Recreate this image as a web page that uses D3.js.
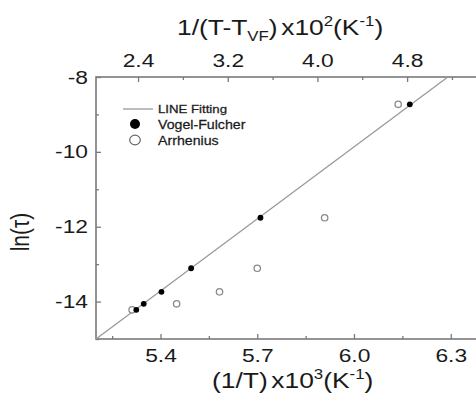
<!DOCTYPE html>
<html>
<head>
<meta charset="utf-8">
<script src="https://cdn.jsdelivr.net/npm/d3@7/dist/d3.min.js"></script>
<style>
  html, body { margin: 0; padding: 0; background: #fff; }
  svg { display: block; }
  text { font-family: "Liberation Sans", Arial, sans-serif; fill: #1a1a1a; }
</style>
</head>
<body>
<svg id="chart" width="476" height="398"></svg>
<script>
// Relaxation time data: x = 1000/T (K^-1), y = ln(tau)
const invT_VF   = [5.325, 5.348, 5.403, 5.495, 5.710, 6.173];
const lnTau     = [-14.22, -14.06, -13.74, -13.11, -11.76, -8.73];
const invT_Arr  = [5.312, 5.450, 5.583, 5.700, 5.909, 6.137];
const fitX      = [5.2, 6.291];
const fitY      = [-15, -8];

const xTicks    = [5.4, 5.7, 6.0, 6.3];
const xMinor    = [5.25, 5.55, 5.85, 6.15];
const topTicks  = [2.4, 3.2, 4.0, 4.8];
const topMinor  = [2.8, 3.6, 4.4, 5.2];
const yTicks    = [-8, -10, -12, -14];
const yMinor    = [-9, -11, -13, -15];

const legendItems = ["LINE Fitting", "Vogel-Fulcher", "Arrhenius"];

const svg = d3.select("#chart");
const L = 96, R = 483, T = 77, B = 339;
const SX = 1.2; // horizontal stretch of the lettering

const x = d3.scaleLinear().domain([5.2, 6.4]).range([L, R]);
const xTop = d3.scaleLinear().domain([2.025, 5.477]).range([L, R]);
const y = d3.scaleLinear().domain([-15, -8]).range([B, T]);

const axisColor = "#7a7a7a";

function styleAxis(g) {
  g.select(".domain").remove();
  g.selectAll("line").attr("stroke", axisColor).attr("stroke-width", 1.3);
  g.selectAll("text").attr("font-size", 19).attr("fill", "#1a1a1a");
}

// frame
svg.append("rect")
  .attr("x", L).attr("y", T).attr("width", R - L).attr("height", B - T)
  .attr("fill", "none").attr("stroke", axisColor).attr("stroke-width", 1.6);

// bottom axis
const gB = svg.append("g").attr("transform", `translate(0,${B})`)
  .call(d3.axisBottom(x).tickValues(xTicks).tickSize(-5).tickFormat(d => d.toFixed(1)));
styleAxis(gB);
gB.selectAll("text").attr("y", 0).attr("dy", 0)
  .attr("transform", `translate(0,23) scale(${SX},1)`);
svg.append("g").attr("transform", `translate(0,${B})`)
  .call(d3.axisBottom(x).tickValues(xMinor).tickSize(-3).tickFormat(""))
  .call(styleAxis);

// top axis
const gT = svg.append("g").attr("transform", `translate(0,${T})`)
  .call(d3.axisTop(xTop).tickValues(topTicks).tickSize(-5).tickFormat(d => d.toFixed(1)));
styleAxis(gT);
gT.selectAll("text").attr("y", 0).attr("dy", 0)
  .attr("transform", `translate(0,-10) scale(${SX},1)`);
svg.append("g").attr("transform", `translate(0,${T})`)
  .call(d3.axisTop(xTop).tickValues(topMinor).tickSize(-3).tickFormat(""))
  .call(styleAxis);

// left axis (plain hyphen for the minus sign)
const gL = svg.append("g").attr("transform", `translate(${L},0)`)
  .call(d3.axisLeft(y).tickValues(yTicks).tickSize(-5).tickFormat(d => String(d)));
styleAxis(gL);
gL.selectAll("text").attr("x", 0)
  .attr("transform", `translate(-8,0) scale(${SX},1)`);
svg.append("g").attr("transform", `translate(${L},0)`)
  .call(d3.axisLeft(y).tickValues(yMinor).tickSize(-3).tickFormat(""))
  .call(styleAxis);

// linear fit
svg.append("path")
  .datum(d3.zip(fitX, fitY))
  .attr("fill", "none").attr("stroke", "#9a9a9a").attr("stroke-width", 1.3)
  .attr("d", d3.line().x(d => x(d[0])).y(d => y(d[1])));

// Arrhenius (open)
svg.append("g").selectAll("circle")
  .data(d3.zip(invT_Arr, lnTau)).join("circle")
  .attr("cx", d => x(d[0])).attr("cy", d => y(d[1])).attr("r", 3.2)
  .attr("fill", "#fff").attr("stroke", "#8a8a8a").attr("stroke-width", 1.3);

// Vogel-Fulcher (filled)
svg.append("g").selectAll("circle")
  .data(d3.zip(invT_VF, lnTau)).join("circle")
  .attr("cx", d => x(d[0])).attr("cy", d => y(d[1])).attr("r", 2.9)
  .attr("fill", "#000");

// legend
svg.append("line").attr("x1", 123).attr("x2", 153).attr("y1", 109).attr("y2", 109)
  .attr("stroke", "#9a9a9a").attr("stroke-width", 1.3);
svg.append("text").attr("transform", "translate(158,113) scale(1.15,1)")
  .attr("font-size", 11.5).attr("fill", "#2a2a2a")
  .attr("stroke", "#2a2a2a").attr("stroke-width", 0.3).text(legendItems[0]);
svg.append("circle").attr("cx", 135).attr("cy", 124).attr("r", 5).attr("fill", "#000");
svg.append("text").attr("transform", "translate(158,128.5) scale(1.05,1)")
  .attr("font-size", 13.5).attr("stroke", "#1a1a1a").attr("stroke-width", 0.25).text(legendItems[1]);
svg.append("ellipse").attr("cx", 135).attr("cy", 140).attr("rx", 5.3).attr("ry", 4.8)
  .attr("fill", "#fff").attr("stroke", "#666").attr("stroke-width", 1.2);
svg.append("text").attr("transform", "translate(158,144.5) scale(1.05,1)")
  .attr("font-size", 13.5).attr("stroke", "#1a1a1a").attr("stroke-width", 0.25).text(legendItems[2]);

// axis titles
const topTitle = svg.append("text").attr("transform", `translate(177,35) scale(${SX},1)`)
  .attr("font-size", 22);
topTitle.append("tspan").text("1/(T-T");
topTitle.append("tspan").attr("font-size", 14).attr("dy", 6).text("VF");
topTitle.append("tspan").attr("dy", -6).text(")");
topTitle.append("tspan").attr("dx", 3).text("x10");
topTitle.append("tspan").attr("font-size", 14).attr("dy", -9).text("2");
topTitle.append("tspan").attr("dy", 9).text("(K");
topTitle.append("tspan").attr("font-size", 14).attr("dy", -9).text("-1");
topTitle.append("tspan").attr("dy", 9).text(")");

const botTitle = svg.append("text").attr("transform", `translate(212,388) scale(${SX},1)`)
  .attr("font-size", 22);
botTitle.append("tspan").text("(1/T)");
botTitle.append("tspan").attr("dx", 3).text("x10");
botTitle.append("tspan").attr("font-size", 14).attr("dy", -9).text("3");
botTitle.append("tspan").attr("dy", 9).text("(K");
botTitle.append("tspan").attr("font-size", 14).attr("dy", -9).text("-1");
botTitle.append("tspan").attr("dy", 9).text(")");

svg.append("text")
  .attr("transform", `translate(29,232) scale(${SX},1) rotate(-90)`)
  .attr("text-anchor", "middle").attr("font-size", 21).text("ln(τ)");
</script>
</body>
</html>
